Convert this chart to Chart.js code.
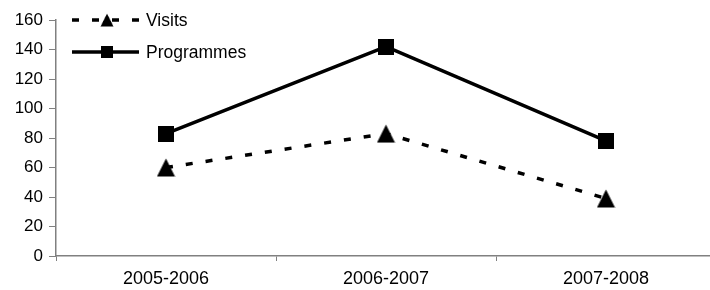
<!DOCTYPE html>
<html>
<head>
<meta charset="utf-8">
<script src="https://cdn.jsdelivr.net/npm/chart.js@4/dist/chart.umd.min.js"></script>
<style>
  html, body { margin: 0; padding: 0; background: #fff; overflow: hidden; width: 710px; height: 290px; }
  #wrap { width: 730px; height: 290px; }
</style>
</head>
<body>
<div id="wrap"><canvas id="c" width="730" height="290"></canvas></div>
<script>
const categories = ['2005-2006', '2006-2007', '2007-2008'];
const visits = [60, 83, 39];
const programmes = [83, 142, 78];
const yTicks = [0, 20, 40, 60, 80, 100, 120, 140, 160];

const FONT = "'Liberation Sans', Arial, sans-serif";
const AXIS = '#808080';

function makeMarker(kind) {
  const c = document.createElement('canvas');
  if (kind === 'triangle') {
    c.width = 19; c.height = 19;
    const g = c.getContext('2d');
    g.fillStyle = '#000';
    g.beginPath();
    g.moveTo(9.5, 0.5);
    g.lineTo(18.5, 18.5);
    g.lineTo(0.5, 18.5);
    g.closePath();
    g.fill();
  } else {
    c.width = 16; c.height = 16;
    const g = c.getContext('2d');
    g.fillStyle = '#000';
    g.fillRect(0, 0, 16, 16);
  }
  return c;
}
const triMarker = makeMarker('triangle');
const sqMarker = makeMarker('square');

const legendPlugin = {
  id: 'customLegend',
  afterDraw(chart) {
    const ctx = chart.ctx;
    const rows = [20, 52];
    chart.data.datasets.forEach((ds, i) => {
      const y = rows[i];
      ctx.save();
      ctx.strokeStyle = ds.borderColor;
      ctx.lineWidth = ds.borderWidth;
      ctx.setLineDash(ds.borderDash || []);
      ctx.beginPath();
      ctx.moveTo(72, y);
      ctx.lineTo(139, y);
      ctx.stroke();
      ctx.setLineDash([]);
      const m = ds.pointStyle;
      const w = m.width * 0.72, h = m.height * 0.72;
      ctx.drawImage(m, 107 - w / 2, y - h / 2, w, h);
      ctx.fillStyle = '#000';
      ctx.font = '17.5px ' + FONT;
      ctx.textBaseline = 'middle';
      ctx.textAlign = 'left';
      ctx.fillText(ds.label, 146, y + 1);
      ctx.restore();
    });
  }
};

new Chart(document.getElementById('c'), {
  type: 'line',
  data: {
    labels: categories,
    datasets: [
      {
        label: 'Visits',
        data: visits,
        borderColor: '#000',
        backgroundColor: '#000',
        borderWidth: 3.5,
        borderDash: [7, 13],
        pointStyle: triMarker,
        pointRadius: 10,
        tension: 0
      },
      {
        label: 'Programmes',
        data: programmes,
        borderColor: '#000',
        backgroundColor: '#000',
        borderWidth: 3.5,
        pointStyle: sqMarker,
        pointRadius: 9,
        tension: 0
      }
    ]
  },
  options: {
    responsive: false,
    animation: false,
    layout: { padding: { top: 20, right: 14, left: 0, bottom: 0 } },
    plugins: { legend: { display: false }, tooltip: { enabled: false } },
    scales: {
      x: {
        type: 'category',
        offset: true,
        grid: { offset: true, drawOnChartArea: false, color: AXIS, tickLength: 5, tickWidth: 1 },
        border: { color: AXIS, width: 1.5 },
        ticks: { color: '#000', font: { family: FONT, size: 18 }, padding: 7, maxRotation: 0, autoSkip: false },
        afterFit(s) { s.height = 34; }
      },
      y: {
        min: 0, max: 160,
        afterBuildTicks(s) { s.ticks = yTicks.map(v => ({ value: v })); },
        grid: { drawOnChartArea: false, color: AXIS, tickLength: 7, tickWidth: 1 },
        border: { color: AXIS, width: 1.5 },
        ticks: { color: '#000', font: { family: FONT, size: 17 }, padding: 6 },
        afterFit(s) { s.width = 56; }
      }
    }
  },
  plugins: [legendPlugin]
});
</script>
</body>
</html>
